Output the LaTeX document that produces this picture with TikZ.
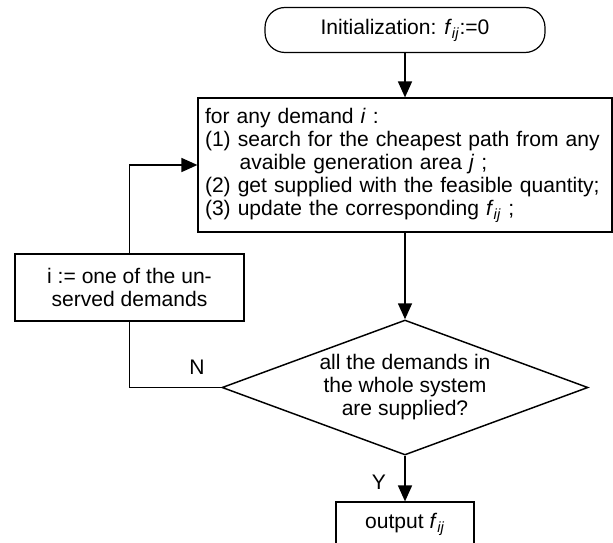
\documentclass[tikz,border=0pt]{standalone}
\usepackage{fontspec}
\setmainfont{Liberation Sans}
\usetikzlibrary{shapes.geometric,arrows.meta}
\newcommand{\fij}{\textit{f}\textsubscript{\textit{ij}}}

\begin{document}
\begin{tikzpicture}[x=0.75pt,y=-0.75pt]
\tikzstyle{every node}=[font=\fontsize{15.8}{17.25}\selectfont]
\tikzstyle{start}=[rectangle, rounded corners=15pt, draw=black, line width=0.9pt, minimum width=210pt, minimum height=33.75pt]
\tikzstyle{process}=[rectangle, draw=black, line width=0.9pt]
\tikzstyle{decision}=[diamond, draw=black, line width=1.1pt, aspect=2.71, inner sep=0pt, minimum width=274.5pt, minimum height=101.25pt, align=center]
\tikzstyle{connect}=[-{Triangle[length=12pt,width=10.5pt]}, line width=1.2pt]
\tikzstyle{line}=[line width=1.2pt]
\useasboundingbox (0,0) rectangle (613,542);
	\node[start] (init) at (405,30) {Initialization: \fij:=0};
	\node[process, text width=300pt, inner xsep=5.25pt, minimum height=100.5pt, align=left] (search) at (405,165)
		{for any demand \textit{i} :\\
		(1) search for the cheapest path from any\\
		\hspace*{26pt}avaible generation area \textit{j} ;\\
		(2) get supplied with the feasible quantity;\\
		(3) update the corresponding \fij\ ;};
	\node[process, minimum width=171.75pt, minimum height=50.25pt, align=center] (pick) at (129.5,287.5)
		{i := one of the un-\\served demands};
	\node[decision] (check) at (405,387.5)
		{all the demands in\\the whole system\\are supplied?};
	\node[process, minimum width=103.5pt, minimum height=33pt] (out) at (405,524) {output \fij};
	\node (no) at (197,367) {N};
	\node (yes) at (379,482) {Y};

	\draw[connect] (init) -- (search);
	\draw[connect] (search) -- (check);
	\draw[connect] (check) -- (out);
	\draw[line] (check.west) -| (pick.south);
	\draw[connect] (pick.north) |- (search.west);
\end{tikzpicture}
\end{document}
